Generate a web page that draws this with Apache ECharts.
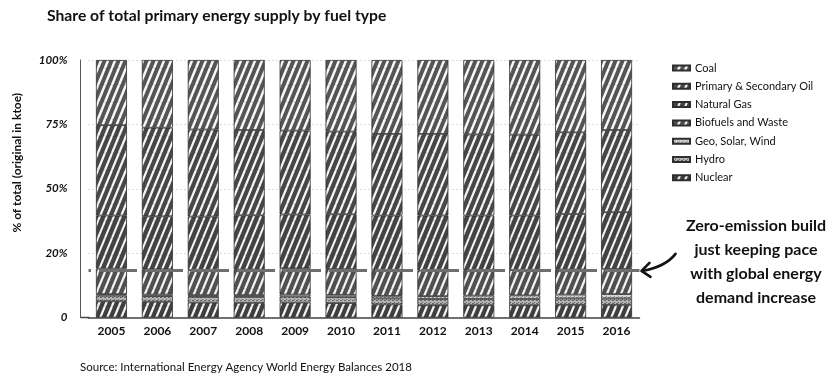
<!DOCTYPE html>
<html>
<head>
<meta charset="utf-8">
<script src="https://cdn.jsdelivr.net/npm/echarts@6/dist/echarts.min.js"></script>
<style>
  html, body { margin: 0; padding: 0; background: #fff; }
  #chart { width: 829px; height: 377px; }
</style>
</head>
<body>
<div id="chart"></div>
<script>
// Share of world total primary energy supply (%), by fuel
const years = ['2005', '2006', '2007', '2008', '2009', '2010', '2011', '2012', '2013', '2014', '2015', '2016'];
const nuclear      = [6.3, 6.1, 5.8, 5.7, 5.8, 5.6, 5.1, 4.8, 4.8, 4.8, 4.9, 4.9];
const hydro        = [2.2, 2.2, 2.2, 2.3, 2.3, 2.3, 2.3, 2.4, 2.4, 2.4, 2.5, 2.5];
const geoSolarWind = [0.6, 0.6, 0.7, 0.7, 0.8, 0.9, 1.0, 1.1, 1.3, 1.4, 1.5, 1.7];
const biofuels     = [9.9, 9.8, 9.7, 9.9, 10.2, 10.0, 9.9, 9.9, 9.8, 9.8, 9.7, 9.8];
const naturalGas   = [20.6, 20.6, 20.8, 21.1, 20.9, 21.3, 21.3, 21.4, 21.3, 21.2, 21.6, 22.0];
const oil          = [35.1, 34.4, 33.8, 33.1, 32.6, 32.1, 31.7, 31.7, 31.5, 31.4, 31.7, 31.9];
const coal         = [25.3, 26.3, 27.0, 27.2, 27.4, 27.8, 28.7, 28.7, 28.9, 29.0, 28.1, 27.2];

const yTickLabels = ['0', '20%', '50%', '75%', '100%'];
const zeroEmissionLine = 18.5;   // nuclear + hydro + geo/solar/wind + biofuels

const legendOrder = ['Coal', 'Primary & Secondary Oil', 'Natural Gas', 'Biofuels and Waste', 'Geo, Solar, Wind', 'Hydro', 'Nuclear'];
const noteLines = ['Zero-emission build', 'just keeping pace', 'with global energy', 'demand increase'];

const FONT = 'Lato, "Open Sans", sans-serif';

// diagonal hatch fills
function hatch(bg, stripe, lw) {
  const c = document.createElement('canvas');
  c.width = 7; c.height = 17;
  const g = c.getContext('2d');
  g.fillStyle = bg; g.fillRect(0, 0, 7, 17);
  g.strokeStyle = stripe; g.lineWidth = lw;
  g.beginPath();
  for (const dx of [-7, 0, 7]) { g.moveTo(dx, 17); g.lineTo(dx + 7, 0); }
  g.stroke();
  return c;
}
function dots(bg, fg) {
  const c = document.createElement('canvas');
  c.width = 4; c.height = 3;
  const g = c.getContext('2d');
  g.fillStyle = bg; g.fillRect(0, 0, 4, 3);
  g.fillStyle = fg; g.fillRect(0, 0, 2, 1); g.fillRect(2, 2, 1, 1);
  return c;
}
const fill = (canvas) => ({ image: canvas, repeat: 'repeat' });

const stackDefs = [
  { name: 'Nuclear',                 data: nuclear,      color: fill(hatch('#3f3f3f', '#f4f4f4', 2.2)) },
  { name: 'Hydro',                   data: hydro,        color: fill(dots('#b3b3b3', '#666666')) },
  { name: 'Geo, Solar, Wind',        data: geoSolarWind, color: fill(dots('#d6d6d6', '#8a8a8a')) },
  { name: 'Biofuels and Waste',      data: biofuels,     color: fill(hatch('#505050', '#f4f4f4', 2.2)) },
  { name: 'Natural Gas',             data: naturalGas,   color: fill(hatch('#434343', '#f4f4f4', 2.0)) },
  { name: 'Primary & Secondary Oil', data: oil,          color: fill(hatch('#474747', '#f6f6f6', 2.2)) },
  { name: 'Coal',                    data: coal,         color: fill(hatch('#555555', '#f8f8f8', 2.5)) }
];

const GRID_LEFT = 88.5, GRID_RIGHT = 189.5, GRID_TOP = 60, GRID_BOTTOM = 59.5, Y_OFFSET = 8;

const chart = echarts.init(document.getElementById('chart'), null, { renderer: 'canvas' });

const series = stackDefs.map((d, i) => {
  const s = {
    name: d.name,
    type: 'bar',
    stack: 'share',
    barWidth: 31,
    data: d.data,
    itemStyle: { color: d.color, borderColor: '#2e2e2e', borderWidth: 0.8 },
    emphasis: { disabled: true }
  };
  if (i === 0) {
    s.markLine = {
      silent: true,
      symbol: 'none',
      label: { show: false },
      z: 10,
      lineStyle: { color: '#6e6e6e', width: 3, type: [38, 8], dashOffset: 35.5 },
      data: [{ yAxis: zeroEmissionLine }]
    };
  }
  return s;
});

chart.setOption({
  animation: false,
  backgroundColor: '#ffffff',
  textStyle: { fontFamily: FONT },
  title: [
    {
      text: 'Share of total primary energy supply by fuel type',
      left: 47, top: 8, padding: 0,
      textStyle: { fontFamily: FONT, fontSize: 15.7, fontWeight: 'bold', color: '#111' }
    },
    {
      text: 'Source: International Energy Agency World Energy Balances 2018',
      left: 80, top: 361, padding: 0,
      textStyle: { fontFamily: FONT, fontSize: 11.5, fontWeight: 'normal', color: '#111' }
    }
  ],
  legend: {
    data: legendOrder,
    orient: 'vertical',
    left: 667, top: 57,
    itemWidth: 17, itemHeight: 5,
    itemGap: 6.3,
    icon: 'rect',
    selectedMode: false,
    textStyle: { fontFamily: FONT, fontSize: 11, color: '#111', lineHeight: 12 }
  },
  grid: { left: GRID_LEFT, right: GRID_RIGHT, top: GRID_TOP, bottom: GRID_BOTTOM, containLabel: false },
  xAxis: {
    type: 'category',
    data: years,
    axisTick: { show: false },
    axisLine: { lineStyle: { color: '#444', width: 1.5 } },
    axisLabel: { margin: 8, fontFamily: FONT, fontSize: 12, fontWeight: 'bold', color: '#111' }
  },
  yAxis: {
    type: 'value',
    min: 0, max: 100, interval: 25,
    offset: Y_OFFSET,
    name: '% of total (original in ktoe)',
    nameLocation: 'middle',
    nameGap: 57,
    nameTextStyle: { fontFamily: FONT, fontSize: 12, fontWeight: 'bold', color: '#111', padding: [0, 0, 0, 52] },
    axisLine: { show: true, lineStyle: { color: '#555', width: 1 } },
    axisTick: { show: false },
    axisLabel: {
      margin: 13,
      fontFamily: FONT, fontSize: 11.5, fontWeight: 'bold', fontStyle: 'italic', color: '#111',
      formatter: (v) => yTickLabels[Math.round(v / 25)]
    },
    splitLine: { show: true, lineStyle: { color: '#b5b5b5', width: 1, type: [1, 3] } }
  },
  series: series
});

// Annotation pointing at the zero-emission level, plus the short run of
// baseline between the offset y axis and the first category band.
const tip = chart.convertToPixel({ gridIndex: 0 }, [years[years.length - 1], zeroEmissionLine]);
const base = chart.convertToPixel({ yAxisIndex: 0 }, 0);
const tipX = 829 - GRID_RIGHT + 2;
const tipY = tip[1] + 1;
const noteX = 756;

chart.setOption({
  graphic: [
    {
      type: 'line',
      shape: { x1: GRID_LEFT - Y_OFFSET, y1: base, x2: GRID_LEFT + 1, y2: base },
      style: { stroke: '#444', lineWidth: 1.5 }
    },
    {
      type: 'bezierCurve',
      shape: { x1: tipX + 34, y1: tipY - 17, cpx1: tipX + 24, cpy1: tipY - 4, x2: tipX + 1, y2: tipY },
      style: { stroke: '#111', lineWidth: 2.6, fill: null, lineCap: 'round' }
    },
    {
      type: 'polyline',
      shape: { points: [[tipX + 8, tipY - 8], [tipX, tipY], [tipX + 9, tipY + 6]] },
      style: { stroke: '#111', lineWidth: 2.6, fill: null, lineCap: 'round', lineJoin: 'round' }
    },
    {
      type: 'text',
      x: noteX, y: 214,
      style: {
        text: noteLines.join('\n'),
        fontFamily: FONT, fontSize: 16, fontWeight: 'bold', fill: '#111',
        align: 'center', verticalAlign: 'top', lineHeight: 24
      }
    }
  ]
});
</script>
</body>
</html>
